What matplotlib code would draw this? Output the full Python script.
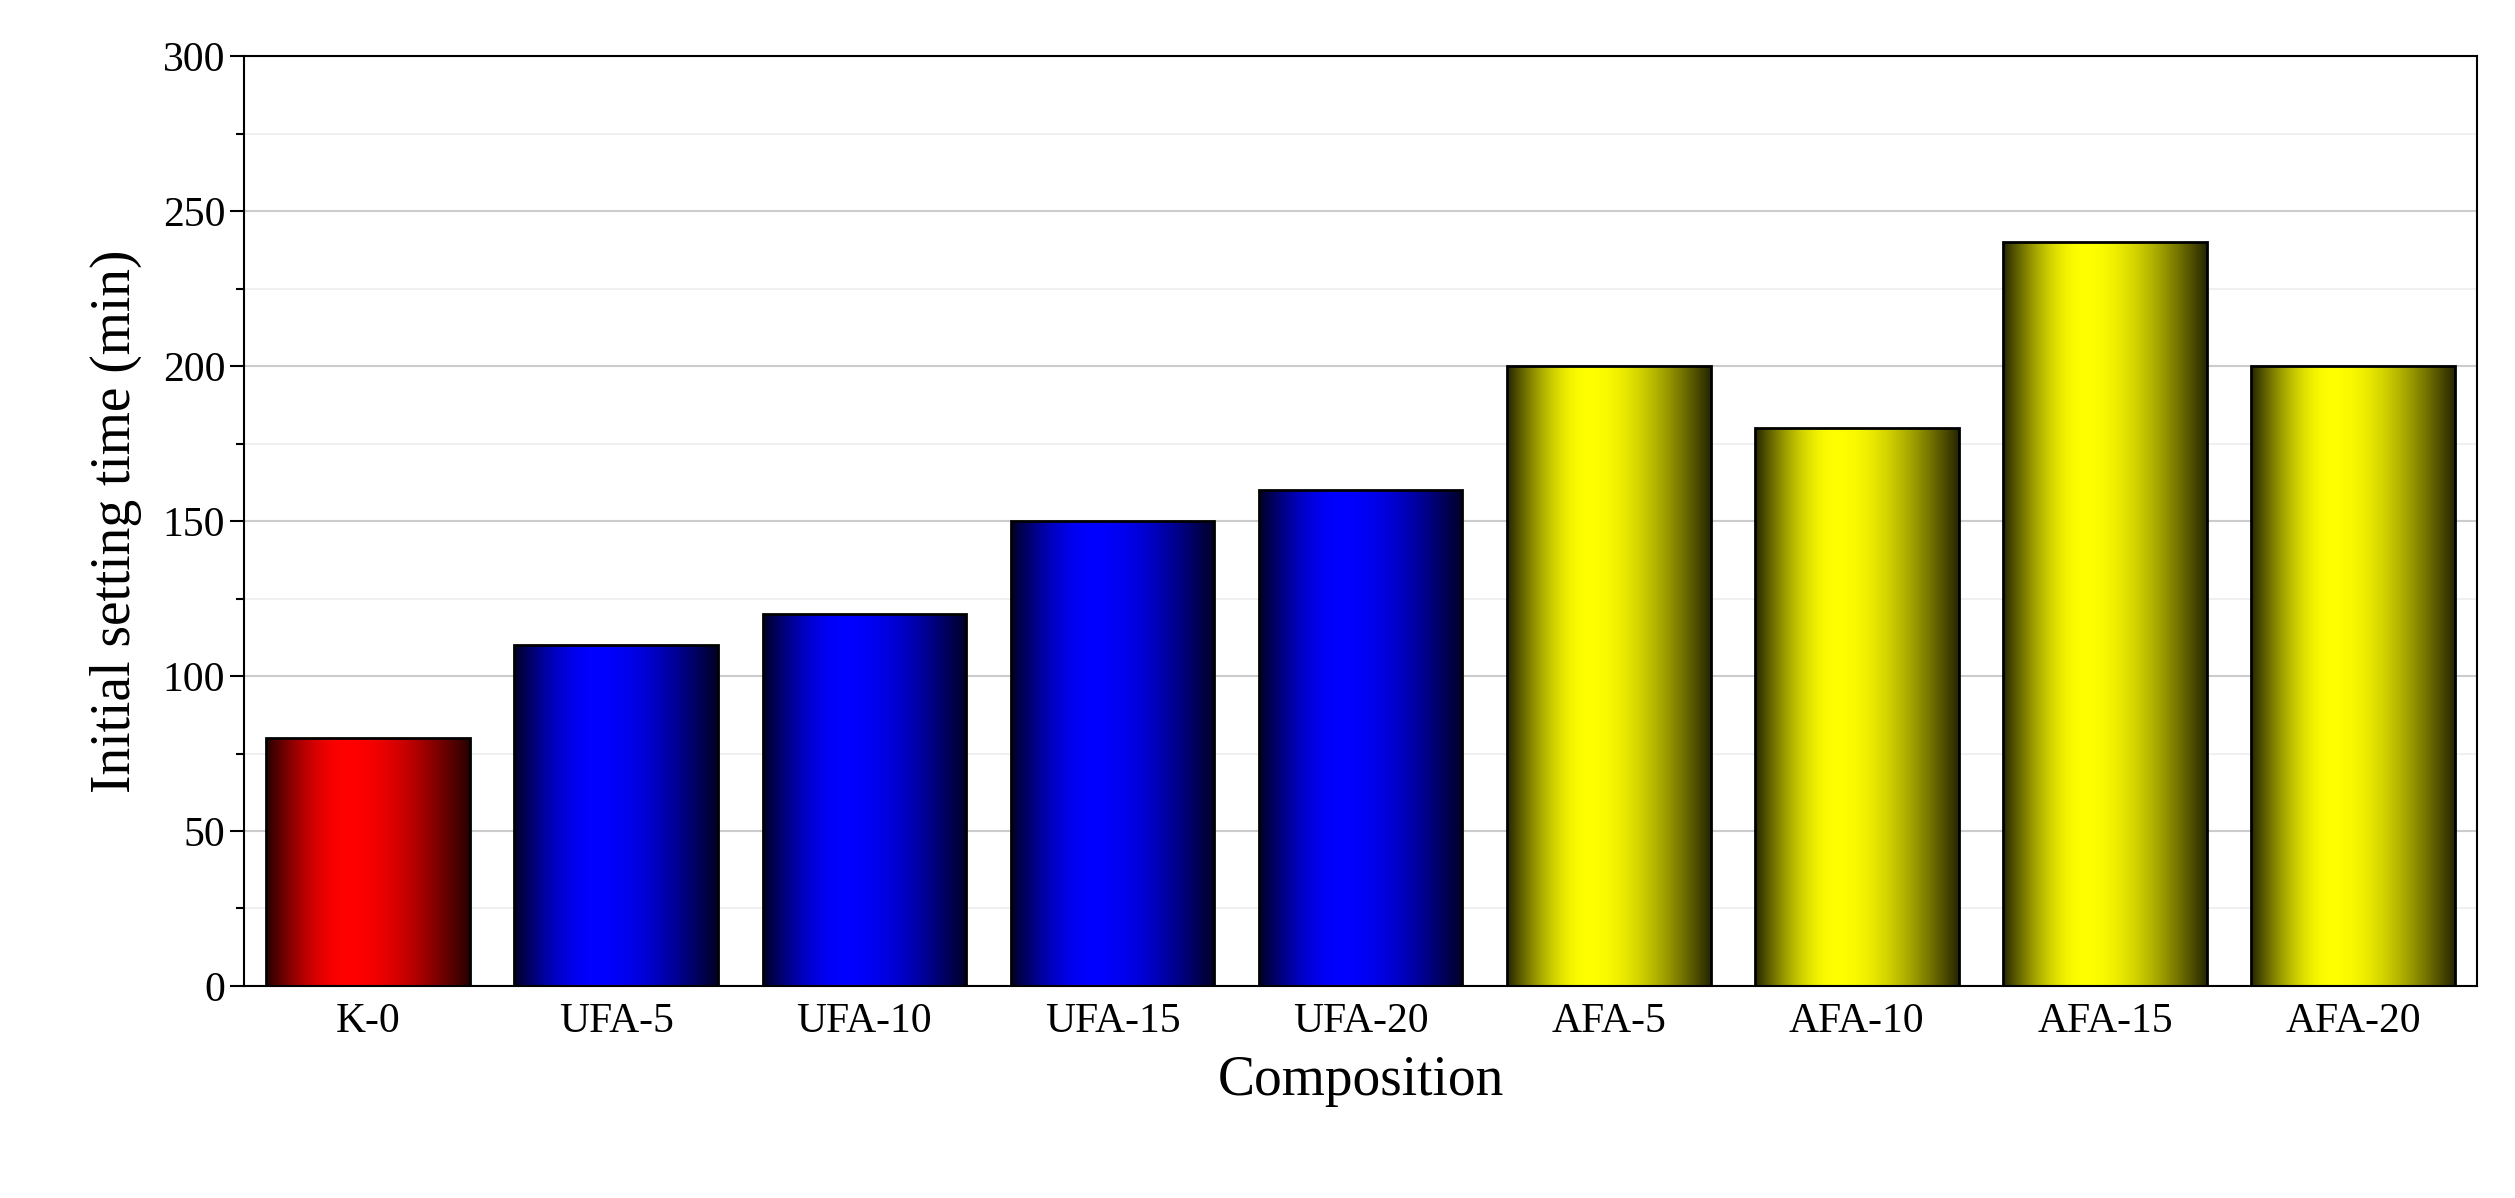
import numpy as np
import matplotlib
matplotlib.use("Agg")
import matplotlib.pyplot as plt
from matplotlib.patches import Rectangle

categories = ["K-0", "UFA-5", "UFA-10", "UFA-15", "UFA-20", "AFA-5", "AFA-10", "AFA-15", "AFA-20"]
values = [80, 110, 120, 150, 160, 200, 180, 240, 200]
colors = ["#ff0000", "#0000ff", "#0000ff", "#0000ff", "#0000ff",
          "#ffff00", "#ffff00", "#ffff00", "#ffff00"]

plt.rcParams['font.family'] = ['Liberation Serif', 'DejaVu Serif']
fig = plt.figure(figsize=(25.15, 11.98), dpi=100)
ax = fig.add_axes([0.097, 0.177, 0.888, 0.776])

width = 0.82
x = np.arange(len(categories))
t = np.linspace(0, 1, 256)
# brightness profile: dark edges, bright around 40%
prof = np.where(t < 0.4, 0.15 + 0.85 * np.sin(t / 0.4 * np.pi / 2),
                0.15 + 0.85 * np.cos((t - 0.4) / 0.6 * np.pi / 2))
for xi, v, c in zip(x, values, colors):
    rgb = np.array(matplotlib.colors.to_rgb(c))
    img = (prof[:, None] * rgb[None, :])[None, :, :]
    im = ax.imshow(img, extent=[xi - width / 2, xi + width / 2, 0, v],
                   aspect='auto', zorder=2, interpolation='bilinear')
    rect = Rectangle((xi - width / 2, 0), width, v, facecolor='none',
                     edgecolor='black', linewidth=2, zorder=3)
    ax.add_patch(rect)
    im.set_clip_path(rect)

ax.set_xlim(-0.5, len(categories) - 0.5)
ax.set_ylim(0, 300)
ax.set_xticks(x)
ax.set_xticklabels(categories)
ax.set_yticks(np.arange(0, 301, 50))
ax.set_yticks(np.arange(0, 301, 25), minor=True)
ax.grid(axis='y', which='major', color='#cccccc', linewidth=1.5, zorder=0)
ax.grid(axis='y', which='minor', color='#eeeeee', linewidth=1.2, zorder=0)
ax.set_axisbelow(True)
ax.tick_params(axis='y', which='major', length=10, width=1.5, labelsize=30, direction='out')
ax.tick_params(axis='y', which='minor', length=6, width=1.5, direction='out')
ax.tick_params(axis='x', length=0, labelsize=30, pad=12)
for s in ax.spines.values():
    s.set_linewidth(1.5)
ax.set_xlabel("Composition", fontsize=40, labelpad=10)
ax.set_ylabel("Initial setting time (min)", fontsize=40, labelpad=15)
fig.savefig("out.png", dpi=100)
